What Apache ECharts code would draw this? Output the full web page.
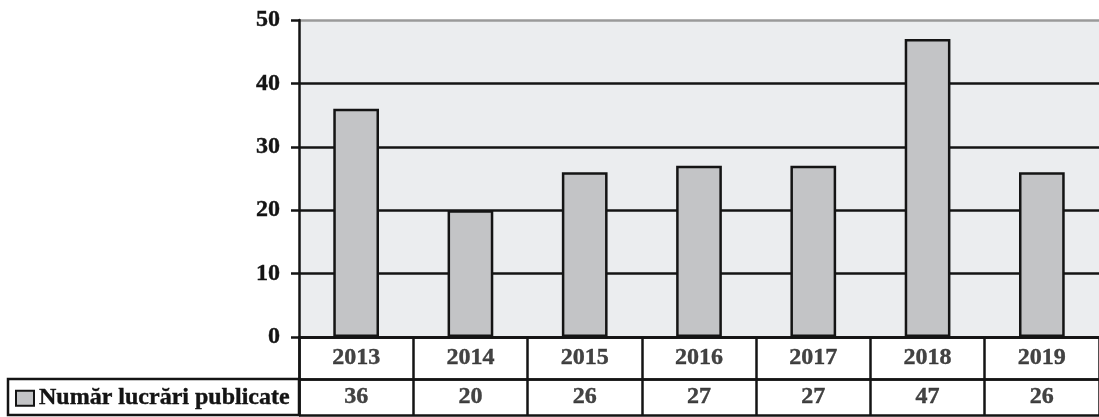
<!DOCTYPE html>
<html>
<head>
<meta charset="utf-8">
<script src="https://cdn.jsdelivr.net/npm/echarts@6/dist/echarts.min.js"></script>
<style>
html,body{margin:0;padding:0;background:#fff;}
#chart{width:1099px;height:417px;}
</style>
</head>
<body>
<div id="chart"></div>
<script>
const years = ['2013', '2014', '2015', '2016', '2017', '2018', '2019'];
const papers = [36, 20, 26, 27, 27, 47, 26];
const seriesName = 'Număr lucrări publicate';
const yTicks = { min: 0, max: 50, interval: 10 };

const FONT = '"Liberation Serif", "Times New Roman", serif';
const INK = '#141414';
const FS = 24;
const textBase = { fontFamily: FONT, fontWeight: 'bold', fontSize: FS, color: INK, textBorderColor: INK, textBorderWidth: 0.4 };

const yearCells = years.map(y => [y, 0.5, y]);
const valueCells = years.map((y, i) => [y, 0.5, String(papers[i])]);

function rowAxes(gridIndex) {
  return {
    x: {
      gridIndex, type: 'category', data: years, boundaryGap: true,
      axisLine: { show: false }, axisTick: { show: false }, axisLabel: { show: false },
      splitLine: { show: true, lineStyle: { color: INK, width: 2.5 } }
    },
    y: {
      gridIndex, type: 'value', min: 0, max: 1, interval: 1,
      axisLine: { show: true, lineStyle: { color: INK, width: 2.5 } },
      axisTick: { show: false }, axisLabel: { show: false },
      splitLine: { show: true, lineStyle: { color: INK, width: 2.5 } }
    }
  };
}
const yearRow = rowAxes(1);
const valueRow = rowAxes(3);

const chart = echarts.init(document.getElementById('chart'), null, { renderer: 'canvas' });
chart.setOption({
  animation: false,
  backgroundColor: '#ffffff',
  legend: {
    data: [seriesName],
    left: 10,
    top: 381,
    icon: 'rect',
    itemWidth: 18,
    itemHeight: 15,
    textStyle: Object.assign({}, textBase)
  },
  grid: [
    { left: 299, top: 20, width: 808, height: 317, show: true, backgroundColor: '#ebedef', borderWidth: 0 },
    { left: 299, top: 337, width: 808, height: 42, show: false },
    { left: 8, top: 379, width: 291, height: 36, show: true, backgroundColor: 'rgba(0,0,0,0)', borderColor: INK, borderWidth: 2.5 },
    { left: 299, top: 379, width: 808, height: 36, show: false }
  ],
  xAxis: [
    {
      gridIndex: 0, type: 'category', data: years, boundaryGap: true,
      axisLine: { show: true, lineStyle: { color: INK, width: 2.5 } },
      axisTick: { show: false }, axisLabel: { show: false }, splitLine: { show: false }
    },
    yearRow.x,
    { gridIndex: 2, type: 'value', show: false },
    valueRow.x
  ],
  yAxis: [
    {
      gridIndex: 0, type: 'value', min: yTicks.min, max: yTicks.max, interval: yTicks.interval,
      axisLine: { show: true, lineStyle: { color: INK, width: 2.5 } },
      axisTick: { show: true, length: 8, lineStyle: { color: INK, width: 2.5 } },
      axisLabel: Object.assign({ margin: 19 }, textBase),
      splitLine: { show: true, lineStyle: { color: [INK, INK, INK, INK, INK, '#9a9a9a'], width: 2.5 } }
    },
    yearRow.y,
    { gridIndex: 2, type: 'value', show: false },
    valueRow.y
  ],
  series: [
    {
      name: seriesName, type: 'bar', xAxisIndex: 0, yAxisIndex: 0,
      data: papers, barWidth: '40%',
      itemStyle: { color: '#c3c4c6', borderColor: INK, borderWidth: 2.5 }
    },
    {
      type: 'scatter', xAxisIndex: 1, yAxisIndex: 1, data: yearCells,
      symbolSize: 1, itemStyle: { color: 'rgba(0,0,0,0)' }, silent: true,
      label: Object.assign({ show: true, position: 'inside', formatter: p => p.data[2] }, textBase)
    },
    {
      type: 'scatter', xAxisIndex: 3, yAxisIndex: 3, data: valueCells,
      symbolSize: 1, itemStyle: { color: 'rgba(0,0,0,0)' }, silent: true,
      label: Object.assign({ show: true, position: 'inside', formatter: p => p.data[2] }, textBase)
    }
  ]
});
</script>
</body>
</html>
